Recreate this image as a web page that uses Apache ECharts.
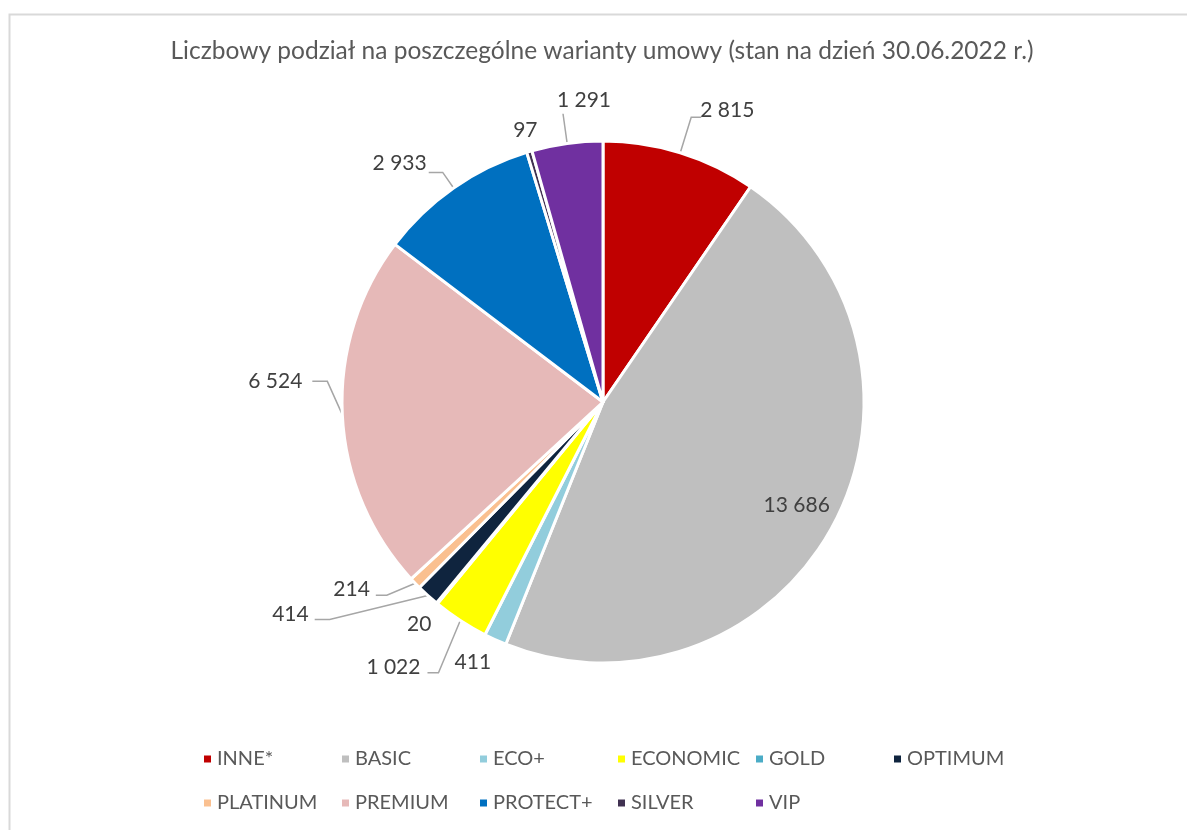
<!DOCTYPE html>
<html>
<head>
<meta charset="utf-8">
<script src="https://cdn.jsdelivr.net/npm/echarts@6/dist/echarts.min.js"></script>
<style>
  html, body { margin: 0; padding: 0; background: #fff; }
  #chart { width: 1187px; height: 830px; }
</style>
</head>
<body>
<div id="chart"></div>
<script>
// Contract variants and their counts as of 30.06.2022
const categories = ['INNE*', 'BASIC', 'ECO+', 'ECONOMIC', 'GOLD', 'OPTIMUM',
                    'PLATINUM', 'PREMIUM', 'PROTECT+', 'SILVER', 'VIP'];
const counts = [2815, 13686, 411, 1022, 20, 414, 214, 6524, 2933, 97, 1291];
const colors = ['#C00000', '#BFBFBF', '#92CDDC', '#FFFF00', '#4BACC6', '#0F243E',
                '#FAC090', '#E6B9B8', '#0070C0', '#403151', '#7030A0'];
const titleText = 'Liczbowy podział na poszczególne warianty umowy (stan na dzień 30.06.2022 r.)';

const FONT = 'Lato';
const fmt = v => String(v).replace(/\B(?=(\d{3})+(?!\d))/g, ' ');

// Leader line lengths per slice: [radial length, horizontal length, visible]
const leader = {
  'INNE*':    [37, 10, true],
  'ECO+':     [15, 10, false],
  'ECONOMIC': [60, 10, true],
  'GOLD':     [15, 10, false],
  'OPTIMUM':  [15, 100, true],
  'PLATINUM': [20, 25, true],
  'PREMIUM':  [15, 15, true],
  'PROTECT+': [19, 14, true],
  'SILVER':   [10, 0, false],
  'VIP':      [30, 0, true]
};

// Fine placement of labels relative to the default outside position:
// text shift, elbow shift, line-end shift
const nudge = {
  'INNE*':    { t: [-6, -7] },
  'VIP':      { t: [53, -14] },
  'SILVER':   { t: [16, -12] },
  'PROTECT+': { t: [3, -9] },
  'PREMIUM':  { t: [-5, -34], e: [0, -34], f: [0, -34] },
  'PLATINUM': { t: [-1, -8], e: [-14, -2], f: [0, -2] },
  'OPTIMUM':  { t: [-4, 8], e: [-88, 13], f: [-3, 13] },
  'GOLD':     { t: [19, 9] },
  'ECONOMIC': { t: [8, -4], e: [11, 2], f: [10, 2] },
  'ECO+':     { t: [17, 9] }
};

const pieData = categories.map((name, i) => {
  const item = { name, value: counts[i], itemStyle: { color: colors[i] } };
  if (name === 'BASIC') {
    item.label = { position: 'inside', offset: [76, 40] };
  } else if (leader[name]) {
    const [len, len2, vis] = leader[name];
    item.labelLine = { show: vis, length: len, length2: len2 };
  }
  return item;
});

function layoutLabel(params) {
  const n = nudge[categories[params.dataIndex]];
  if (!n) return {};
  const r = params.labelRect;
  const t = n.t || [0, 0];
  const res = {
    x: r.x + r.width / 2 + t[0],
    y: r.y + r.height / 2 + t[1],
    align: 'center',
    verticalAlign: 'middle'
  };
  const p = params.labelLinePoints;
  if (p && p.length === 3) {
    const e = n.e || [0, 0];
    const f = n.f || [0, 0];
    res.labelLinePoints = [
      [p[0][0], p[0][1]],
      [p[1][0] + e[0], p[1][1] + e[1]],
      [p[2][0] + f[0], p[2][1] + f[1]]
    ];
  }
  return res;
}

const legendCommon = {
  orient: 'horizontal',
  left: 197,
  itemWidth: 9,
  itemHeight: 9,
  itemGap: 0,
  icon: 'rect',
  selectedMode: false,
  textStyle: { fontFamily: FONT, fontSize: 20, color: '#595959', width: 123, lineHeight: 24 }
};

const chart = echarts.init(document.getElementById('chart'));
chart.setOption({
  animation: false,
  backgroundColor: '#fff',
  color: colors,
  title: {
    text: titleText,
    left: 597,
    textAlign: 'center',
    top: 32,
    textStyle: { fontFamily: FONT, fontSize: 24.5, fontWeight: 'normal', color: '#595959', lineHeight: 28 }
  },
  graphic: [{
    type: 'rect',
    left: 7, top: 12,
    shape: { width: 1210, height: 900 },
    style: { fill: 'none', stroke: '#D9D9D9', lineWidth: 2 },
    silent: true
  }],
  legend: [
    Object.assign({}, legendCommon, { top: 742, data: categories.slice(0, 6) }),
    Object.assign({}, legendCommon, { top: 786, data: categories.slice(6) })
  ],
  series: [{
    type: 'pie',
    center: [603, 402],
    radius: 261,
    startAngle: 90,
    clockwise: true,
    avoidLabelOverlap: false,
    itemStyle: { borderColor: '#fff', borderWidth: 3 },
    label: {
      show: true,
      position: 'outside',
      formatter: p => fmt(p.value),
      fontFamily: FONT,
      fontSize: 21,
      color: '#404040'
    },
    labelLine: { show: true, length: 15, length2: 10, lineStyle: { color: '#A6A6A6', width: 1.5 } },
    labelLayout: layoutLabel,
    emphasis: { disabled: true },
    data: pieData
  }]
});
</script>
</body>
</html>
